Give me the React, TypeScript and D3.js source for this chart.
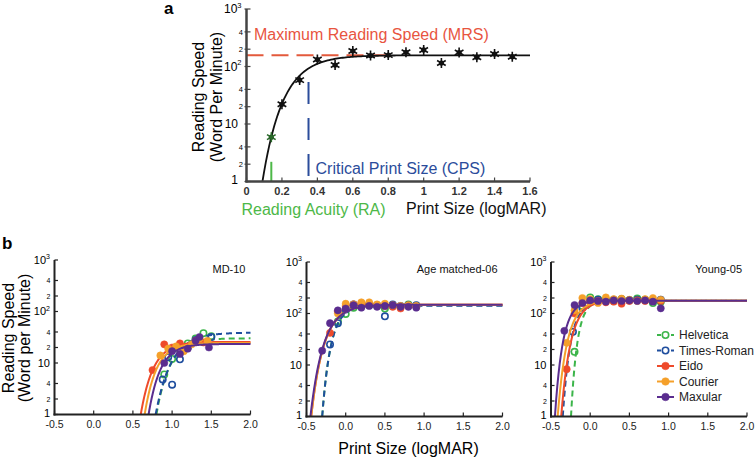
import React from 'react';
import * as d3 from 'd3';

const FONT = '"Liberation Sans", Arial, Helvetica, sans-serif';

// ---------- Panel a data ----------
const aPrintSize = [0.14, 0.2, 0.3, 0.4, 0.5, 0.6, 0.7, 0.8, 0.9, 1.0, 1.1, 1.2, 1.3, 1.4, 1.5];
const aSpeed = [5.9, 22, 58, 132, 106, 186, 155, 158, 177, 194, 115, 175, 145, 165, 148];
const aFit = [0.09, 0.115, 2.195]; // x-intercept, decay constant, log10(MRS)
const aMRS = 157;
const aCPS = 0.35;
const aRA = 0.14;
const aXTicks = [0, 0.2, 0.4, 0.6, 0.8, 1.0, 1.2, 1.4, 1.6];
const aXTickLabels = ['0', '0.2', '0.4', '0.6', '0.8', '1', '1.2', '1.4', '1.6'];
const logTicks = [1, 2, 4, 10, 20, 40, 100, 200, 400, 1000];

// ---------- Panel b data ----------
const fontNames = ['Helvetica', 'Times-Roman', 'Eido', 'Courier', 'Maxular'];
const fontColors = ['#3cb54a', '#1f4e9e', '#ee4a2b', '#f5a02a', '#5a2d8f'];
const fontDashed = [true, true, false, false, false];
const fontFilled = [false, false, true, true, true];
const panelTitles = ['MD-10', 'Age matched-06', 'Young-05'];
const bXTicks = [-0.5, 0.0, 0.5, 1.0, 1.5, 2.0];
const bXTickLabels = ['-0.5', '0.0', '0.5', '1.0', '1.5', '2.0'];

// MD-10
const md10Helvetica = [[0.9, 6], [1.0, 12], [1.1, 18], [1.2, 24], [1.3, 30], [1.4, 38], [1.5, 33]];
const md10Times = [[0.88, 4.8], [0.95, 13], [1.0, 3.8], [1.1, 11.8], [1.2, 20], [1.3, 28], [1.5, 32]];
const md10Eido = [[0.75, 7.3], [0.9, 23], [1.0, 20], [1.1, 24], [1.2, 21], [1.3, 27], [1.4, 25]];
const md10Courier = [[0.85, 14], [0.95, 19], [1.05, 21], [1.15, 17], [1.25, 23], [1.35, 30], [1.45, 27]];
const md10Maxular = [[0.9, 10], [1.0, 17], [1.1, 15], [1.2, 19], [1.3, 27], [1.35, 32], [1.47, 20]];
const md10Fits = [[0.8, 0.17, 1.48], [0.79, 0.2, 1.59], [0.6, 0.16, 1.41], [0.65, 0.15, 1.39], [0.7, 0.15, 1.37]];

// Age matched-06
const ageHelvetica = [[-0.1, 70], [0.0, 98], [0.1, 130], [0.2, 140], [0.3, 145], [0.4, 140], [0.5, 125], [0.6, 140], [0.7, 135], [0.8, 150], [0.9, 140]];
const ageTimes = [[-0.2, 25], [-0.1, 65], [0.0, 120], [0.1, 150], [0.2, 145], [0.3, 150], [0.4, 145], [0.5, 88], [0.6, 150], [0.7, 140], [0.8, 145], [0.9, 145]];
const ageEido = [[-0.2, 42], [-0.1, 110], [0.0, 140], [0.1, 150], [0.2, 160], [0.3, 150], [0.4, 145], [0.5, 140], [0.6, 135], [0.7, 125], [0.8, 140], [0.9, 135]];
const ageCourier = [[-0.1, 100], [0.0, 155], [0.1, 150], [0.2, 165], [0.3, 165], [0.4, 150], [0.5, 155], [0.6, 145], [0.7, 140], [0.8, 145], [0.9, 140]];
const ageMaxular = [[-0.3, 19], [-0.2, 65], [-0.1, 115], [0.0, 125], [0.1, 145], [0.2, 130], [0.3, 140], [0.4, 135], [0.5, 140], [0.6, 145], [0.7, 135], [0.8, 135], [0.9, 130]];
const ageFits = [[-0.3, 0.11, 2.16], [-0.3, 0.11, 2.15], [-0.44, 0.16, 2.17], [-0.44, 0.16, 2.17], [-0.45, 0.165, 2.17]];

// Young-05
const youngHelvetica = [[-0.2, 18], [-0.1, 140], [0.0, 205], [0.1, 190], [0.2, 185], [0.3, 175], [0.4, 190], [0.5, 180], [0.6, 195], [0.7, 185], [0.8, 160], [0.9, 170]];
const youngTimes = [[-0.22, 44], [-0.1, 130], [0.0, 175], [0.1, 185], [0.2, 180], [0.3, 185], [0.4, 190], [0.5, 180], [0.6, 185], [0.7, 180], [0.8, 175], [0.9, 185]];
const youngEido = [[-0.3, 8.3], [-0.2, 100], [-0.1, 160], [0.0, 170], [0.1, 175], [0.2, 165], [0.3, 170], [0.4, 155], [0.5, 175], [0.6, 180], [0.7, 175], [0.8, 185], [0.9, 175]];
const youngCourier = [[-0.3, 27], [-0.2, 115], [-0.1, 200], [0.0, 190], [0.1, 160], [0.2, 205], [0.3, 190], [0.4, 195], [0.5, 185], [0.6, 175], [0.7, 190], [0.8, 200], [0.9, 185]];
const youngMaxular = [[-0.33, 46], [-0.2, 146], [-0.1, 160], [0.0, 180], [0.1, 175], [0.2, 170], [0.3, 180], [0.4, 175], [0.5, 180], [0.6, 175], [0.7, 180], [0.8, 170], [0.9, 126]];
const youngFits = [[-0.245, 0.08, 2.25], [-0.35, 0.1, 2.25], [-0.37, 0.12, 2.25], [-0.415, 0.12, 2.25], [-0.45, 0.1, 2.25]];

const panelData = [
  [md10Helvetica, md10Times, md10Eido, md10Courier, md10Maxular],
  [ageHelvetica, ageTimes, ageEido, ageCourier, ageMaxular],
  [youngHelvetica, youngTimes, youngEido, youngCourier, youngMaxular],
];
const panelFits = [md10Fits, ageFits, youngFits];
const panelLeft = [54.5, 306.5, 551];
const panelBottom = [414.5, 416.5, 416.5];

function fitCurve(fit: number[], xMax: number) {
  const [x0, k, L] = fit;
  const n = 160;
  const pts: [number, number][] = [];
  for (let i = 0; i <= n; i++) {
    const x = x0 + ((xMax - x0) * i) / n;
    pts.push([x, Math.pow(10, L * (1 - Math.exp(-(x - x0) / k)))]);
  }
  return pts;
}

function LogLabel({ v, ax, y, big, small, offBig, offSup, offSmall }: { v: number; ax: number; y: number; big: number; small: number; offBig: number; offSup: number; offSmall: number }) {
  if (v === 1 || v === 10) {
    return (
      <text x={ax - offBig} y={y + big * (v === 1 ? 0.2 : 0.36)} textAnchor="end" fontSize={big}>
        {String(v)}
      </text>
    );
  }
  if (v === 100 || v === 1000) {
    return (
      <text x={ax - offSup} y={y + big * 0.36} textAnchor="end" fontSize={big}>
        10
        <tspan fontSize={small} dy={-big * 0.45}>{v === 100 ? '2' : '3'}</tspan>
      </text>
    );
  }
  const lead = String(v)[0];
  return (
    <text x={ax - offSmall} y={y + small * 0.36} textAnchor="end" fontSize={small}>
      {lead}
    </text>
  );
}

function PanelA() {
  const x = d3.scaleLinear().domain([0, 1.6]).range([246.5, 530]);
  const y = d3.scaleLog().domain([1, 1000]).range([181.5, 9]);
  const line = d3.line<[number, number]>().x((d) => x(d[0])).y((d) => y(d[1]));
  const curve = fitCurve(aFit, 1.6);
  const star = d3.symbol().type(d3.symbolAsterisk).size(70)();
  const axisColor = '#444';
  return (
    <g fontFamily={FONT}>
      <text x={164} y={14} fontSize={17} fontWeight="bold">a</text>
      {/* MRS */}
      <line x1={x(0)} x2={x(0.8)} y1={y(aMRS)} y2={y(aMRS)} stroke="#e35a3c" strokeWidth={2} strokeDasharray="17,8" />
      <text x={254} y={39.5} fontSize={16} fill="#e8553f">Maximum Reading Speed (MRS)</text>
      {/* CPS */}
      <line x1={x(aCPS)} x2={x(aCPS)} y1={y(54)} y2={y(1)} stroke="#2b4c9b" strokeWidth={2} strokeDasharray="22,14" />
      <text x={315.5} y={174} fontSize={16} fill="#2b4c9b">Critical Print Size (CPS)</text>
      {/* RA */}
      <line x1={x(aRA)} x2={x(aRA)} y1={y(2.2)} y2={y(1)} stroke="#4db848" strokeWidth={2} />
      <text x={241.5} y={214.5} fontSize={16} fill="#4db848">Reading Acuity (RA)</text>
      <text x={406} y={214} fontSize={16} fill="#111">Print Size (logMAR)</text>
      {/* fit curve */}
      <path d={line(curve) || ''} fill="none" stroke="#111" strokeWidth={1.8} />
      {/* data */}
      {aPrintSize.map((px, i) => (
        <g key={i} transform={`translate(${x(px)},${y(aSpeed[i])})`}>
          <circle r={2.6} fill={i === 0 ? '#1f4a1f' : '#111'} />
          <path d={star || ''} stroke={i === 0 ? '#2a6a2a' : '#111'} strokeWidth={1.6} fill="none" />
        </g>
      ))}
      {/* axes */}
      <line x1={x(0)} x2={x(0)} y1={y(1000)} y2={y(1) + 1} stroke={axisColor} strokeWidth={2.5} />
      <line x1={x(0) - 1} x2={x(1.6)} y1={y(1)} y2={y(1)} stroke={axisColor} strokeWidth={2.5} />
      {aXTicks.map((t, i) => (
        <g key={i}>
          <line x1={x(t)} x2={x(t)} y1={y(1)} y2={y(1) - 4} stroke={axisColor} strokeWidth={1.2} />
          <text x={x(t)} y={195} textAnchor="middle" fontSize={11} fontWeight="bold" fill="#333">{aXTickLabels[i]}</text>
        </g>
      ))}
      {logTicks.map((t, i) => (
        <g key={i}>
          <line x1={x(0) - 2} x2={x(0) + 4} y1={y(t)} y2={y(t)} stroke={axisColor} strokeWidth={1.2} />
          <LogLabel v={t} ax={x(0)} y={y(t)} big={12} small={7.5} offBig={8.5} offSup={5} offSmall={3.5} />
        </g>
      ))}
      <text transform={`translate(204,97) rotate(-90)`} textAnchor="middle" fontSize={16}>Reading Speed</text>
      <text transform={`translate(222,97) rotate(-90)`} textAnchor="middle" fontSize={16}>(Word Per Minute)</text>
    </g>
  );
}

function SubPanel({ idx }: { idx: number }) {
  const left = panelLeft[idx];
  const bottom = panelBottom[idx];
  const x = d3.scaleLinear().domain([-0.5, 2.0]).range([left, left + 196]);
  const y = d3.scaleLog().domain([1, 1000]).range([bottom, bottom - 154.5]);
  const line = d3.line<[number, number]>().x((d) => x(d[0])).y((d) => y(d[1]));
  const axisColor = '#222';
  const data = panelData[idx];
  const fits = panelFits[idx];
  return (
    <g fontFamily={FONT}>
      {fontNames.map((f, i) => (
        <g key={f}>
          {data[i].map((d, j) => (
            <circle
              key={j}
              cx={x(d[0])}
              cy={y(d[1])}
              r={fontFilled[i] ? 3.6 : 3.2}
              fill={fontFilled[i] ? fontColors[i] : 'none'}
              stroke={fontColors[i]}
              strokeWidth={fontFilled[i] ? 0.5 : 1.6}
            />
          ))}
          <path
            d={line(fitCurve(fits[i], 2.0)) || ''}
            fill="none"
            stroke={fontColors[i]}
            strokeWidth={2}
            strokeDasharray={fontDashed[i] ? '6,4' : undefined}
          />
        </g>
      ))}
      <line x1={x(-0.5)} x2={x(-0.5)} y1={y(1000)} y2={y(1) + 1} stroke={axisColor} strokeWidth={2} />
      <line x1={x(-0.5) - 1} x2={x(2.0)} y1={y(1)} y2={y(1)} stroke={axisColor} strokeWidth={2} />
      {bXTicks.map((t, i) => (
        <g key={i}>
          <line x1={x(t)} x2={x(t)} y1={y(1)} y2={y(1) - 4} stroke={axisColor} strokeWidth={1.2} />
          <text x={x(t)} y={bottom + 13.5} textAnchor="middle" fontSize={10.5} fill="#222">{bXTickLabels[i]}</text>
        </g>
      ))}
      {logTicks.map((t, i) => (
        <g key={i}>
          <line x1={x(-0.5)} x2={x(-0.5) + 3.5} y1={y(t)} y2={y(t)} stroke={axisColor} strokeWidth={1.2} />
          <LogLabel v={t} ax={x(-0.5)} y={y(t)} big={11} small={7} offBig={4.5} offSup={4.5} offSmall={4} />
        </g>
      ))}
      <text x={x(2.0) - 5} y={273} textAnchor="end" fontSize={11} fill="#111">{panelTitles[idx]}</text>
    </g>
  );
}

function Legend() {
  const rowY = [335, 350.5, 366, 381.5, 397];
  return (
    <g fontFamily={FONT}>
      {fontNames.map((f, i) => (
        <g key={f}>
          <line x1={657} x2={674} y1={rowY[i]} y2={rowY[i]} stroke={fontColors[i]} strokeWidth={2} strokeDasharray={fontDashed[i] ? '4,3' : undefined} />
          <circle cx={665.5} cy={rowY[i]} r={fontFilled[i] ? 3.8 : 3.2} fill={fontFilled[i] ? fontColors[i] : '#fff'} stroke={fontColors[i]} strokeWidth={fontFilled[i] ? 0.5 : 1.6} />
          <text x={679} y={rowY[i] + 4.2} fontSize={12} fill="#222">{f}</text>
        </g>
      ))}
    </g>
  );
}

export default function App() {
  return (
    <svg width={755} height={460} style={{ position: 'absolute', left: 0, top: 0, background: '#fff' }}>
      <rect width={755} height={460} fill="#fff" />
      <PanelA />
      <text x={2} y={249} fontSize={17} fontWeight="bold" fontFamily={FONT}>b</text>
      <SubPanel idx={0} />
      <SubPanel idx={1} />
      <SubPanel idx={2} />
      <Legend />
      <text transform="translate(14,338) rotate(-90)" textAnchor="middle" fontSize={16} fontFamily={FONT}>Reading Speed</text>
      <text transform="translate(30,338) rotate(-90)" textAnchor="middle" fontSize={16} fontFamily={FONT}>(Word per Minute)</text>
      <text x={408.5} y={454} textAnchor="middle" fontSize={16} fontFamily={FONT}>Print Size (logMAR)</text>
    </svg>
  );
}
